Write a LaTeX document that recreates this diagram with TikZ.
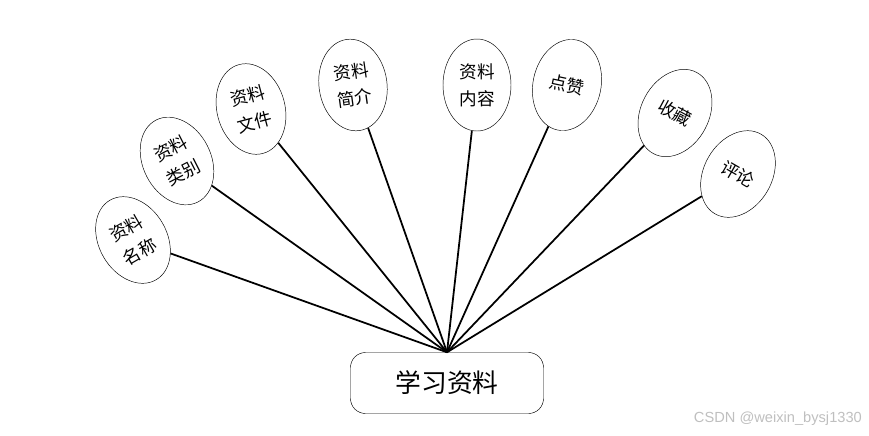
\documentclass[tikz,border=0pt]{standalone}
\usepackage{fontspec}
\setmainfont{Liberation Sans}
\newfontfamily\cjk{Noto Sans CJK SC}
\usetikzlibrary{shapes.geometric}

\begin{document}
\begin{tikzpicture}[
  x=0.03cm, y=-0.03cm,
  attr/.style={draw=black, thin, ellipse, minimum width=2.04cm, minimum height=2.76cm, inner sep=0pt, align=center, font=\cjk\fontsize{15}{23}\selectfont},
  hub/.style={draw=black, thin, rounded corners=0.45cm, minimum width=5.79cm, minimum height=1.83cm, font=\cjk\fontsize{22}{26}\selectfont},
  link/.style={line width=1.5pt, black}
]
  \useasboundingbox (0,0) rectangle (869,435);
  \node[hub] (study) at (447,383) {学习资料};
  \node[attr, rotate=30] (name) at (133,240) {资料\\名称};
  \node[attr, rotate=27] (kind) at (177,161) {资料\\类别};
  \node[attr, rotate=15] (file) at (251,109) {资料\\文件};
  \node[attr, rotate=8] (intro) at (353,85) {资料\\简介};
  \node[attr] (content) at (477,85) {资料\\内容};
  \node[attr, rotate=-12] (like) at (567,85) {点赞};
  \node[attr, rotate=-28] (fav) at (675,113) {收藏};
  \node[attr, rotate=-30] (comment) at (738,174) {评论};
  \foreach \n in {name, kind, file, intro, content, like, fav, comment}
    \draw[link] (\n) -- (study.north);
  \node[text=black!25, font=\fontsize{12.5}{14}\selectfont, anchor=east] (mark) at (866,419) {CSDN @weixin\_bysj1330};
\end{tikzpicture}
\end{document}
